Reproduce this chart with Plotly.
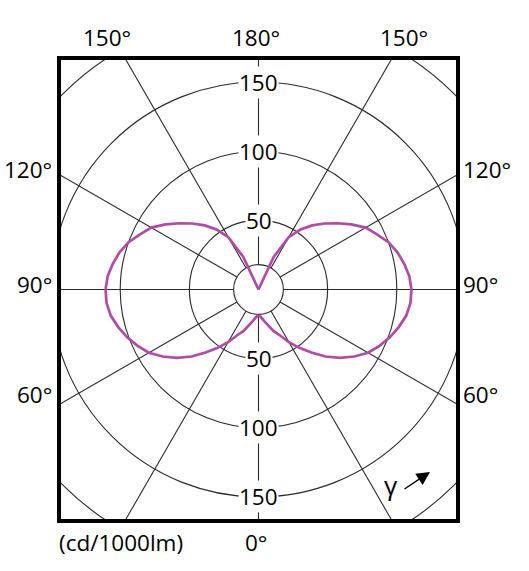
import numpy as np
import plotly.graph_objects as go

# ---- data ----
gamma_deg = [0, 5, 10, 15, 20, 25, 30, 35, 40, 45, 50, 55, 60, 65, 70, 75, 80, 85, 90,
             95, 100, 105, 110, 115, 120, 125, 130, 135, 140, 145, 150, 155, 160, 165,
             170, 175, 180]
intensity = [18.5, 20, 23, 27, 32, 36.5, 44, 51.5, 59.5, 68.5, 77, 84.5, 91.5, 96.5, 101,
             105, 108.5, 110.3, 110.6, 109.5, 107, 104, 100, 94.5, 89.5, 82, 74.5, 67.5,
             60.5, 53, 43.7, 26, 0, 0, 0, 0, 0]
radial_ticks = [50, 100, 150, 200]
radial_labels = [50, 100, 150]
inner_radius = 18
spoke_angles = [0, 30, 60, 90, 120, 150, 180]
angle_labels_top = ["150°", "180°", "150°"]
angle_labels_side = ["120°", "90°", "60°"]
unit_label = "(cd/1000lm)"

CURVE = "#b24aa8"
GRID = "#2a2a2a"
FONT = "Open Sans"
FS = 22.5

W, H = 529, 571
ML, MR, MT, MB = 59, 71, 58, 50
PW, PH = W - ML - MR, H - MT - MB
SCALE = 1.383  # px per cd/1000lm
XR = PW / 2 / SCALE
YR = PH / 2 / SCALE


def px(x, y):
    return (x - ML) / PW, (H - MB - y) / PH


g = np.radians(gamma_deg)
r = np.array(intensity)

fig = go.Figure()
# right and left halves, gamma measured from the downward axis
fig.add_trace(go.Scatter(x=r * np.sin(g), y=-r * np.cos(g), mode="lines",
                         line=dict(color=CURVE, width=2.7), hoverinfo="skip"))
fig.add_trace(go.Scatter(x=-r * np.sin(g), y=-r * np.cos(g), mode="lines",
                         line=dict(color=CURVE, width=2.7), hoverinfo="skip"))

shapes = []
for rt in radial_ticks + [inner_radius]:
    shapes.append(dict(type="circle", xref="x", yref="y", x0=-rt, x1=rt, y0=-rt, y1=rt,
                       line=dict(color=GRID, width=1.1), layer="below"))
far = 400
for a in spoke_angles:
    ar = np.radians(a)
    for s in ([1, -1] if a not in (0, 180) else [1]):
        shapes.append(dict(type="line", xref="x", yref="y",
                           x0=s * inner_radius * np.sin(ar), y0=-inner_radius * np.cos(ar),
                           x1=s * far * np.sin(ar), y1=-far * np.cos(ar),
                           line=dict(color=GRID, width=1.1), layer="below"))
shapes.append(dict(type="rect", xref="paper", yref="paper", x0=0, x1=1, y0=0, y1=1,
                   line=dict(color="black", width=4), layer="above"))

ann = []
for v in radial_labels:
    for sgn in (1, -1):
        ann.append(dict(x=0, y=sgn * v, xref="x", yref="y", text=str(v), showarrow=False,
                        bgcolor="white", borderpad=0,
                        font=dict(family=FONT, size=FS, color="black")))

for txt, (xx, yy) in zip(angle_labels_top, [(107, 38), (256, 38), (404, 38)]):
    X, Y = px(xx, yy)
    ann.append(dict(x=X, y=Y, xref="paper", yref="paper", text=txt, showarrow=False,
                    xanchor="center", yanchor="middle",
                    font=dict(family=FONT, size=FS, color="black")))
for txt, yy in zip(angle_labels_side, [169, 284, 394]):
    X, Y = px(54, yy)
    ann.append(dict(x=X, y=Y, xref="paper", yref="paper", text=txt, showarrow=False,
                    xanchor="right", yanchor="middle",
                    font=dict(family=FONT, size=FS, color="black")))
    X, Y = px(461, yy)
    ann.append(dict(x=X, y=Y, xref="paper", yref="paper", text=txt, showarrow=False,
                    xanchor="left", yanchor="middle",
                    font=dict(family=FONT, size=FS, color="black")))

X, Y = px(256, 542)
ann.append(dict(x=X, y=Y, xref="paper", yref="paper", text="0°", showarrow=False,
                xanchor="center", yanchor="middle", font=dict(family=FONT, size=FS, color="black")))
X, Y = px(57, 542)
ann.append(dict(x=X, y=Y, xref="paper", yref="paper", text=unit_label, showarrow=False,
                xanchor="left", yanchor="middle", font=dict(family=FONT, size=FS, color="black")))
X, Y = px(391, 485)
ann.append(dict(x=X, y=Y, xref="paper", yref="paper", text="γ", showarrow=False,
                xanchor="center", yanchor="middle", font=dict(family=FONT, size=26, color="black")))
X, Y = px(430, 472)
ann.append(dict(x=X, y=Y, xref="paper", yref="paper", text="", showarrow=True,
                ax=-27, ay=18, arrowhead=2, arrowsize=1.9, arrowwidth=1.4,
                arrowcolor="black"))

fig.update_layout(
    width=W, height=H,
    margin=dict(l=ML, r=MR, t=MT, b=MB, pad=0),
    paper_bgcolor="white", plot_bgcolor="white",
    showlegend=False,
    xaxis=dict(range=[-XR, XR], visible=False, fixedrange=True),
    yaxis=dict(range=[-YR, YR], visible=False, fixedrange=True),
    shapes=shapes, annotations=ann,
)
fig.write_html("out.html", config={"displayModeBar": False, "staticPlot": True},
               post_script="document.body.style.margin='0';document.body.style.padding='0';")
